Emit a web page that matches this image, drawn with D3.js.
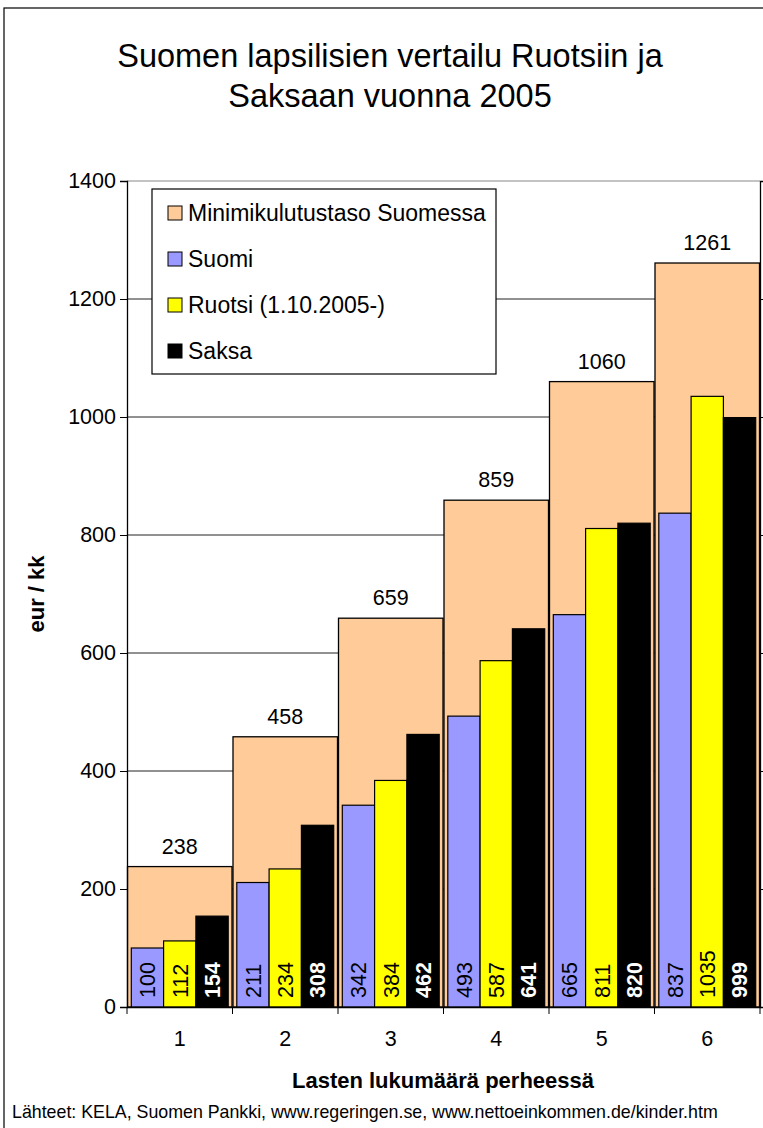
<!DOCTYPE html>
<html>
<head>
<meta charset="utf-8">
<script src="https://cdn.jsdelivr.net/npm/d3@7"></script>
<style>
  body { margin: 0; background: #fff; }
  text { font-family: "Liberation Sans", Arial, sans-serif; }
</style>
</head>
<body>
<svg id="chart" width="763" height="1128"></svg>
<script>
// Data
const children = ["1", "2", "3", "4", "5", "6"];
const minimum = [238, 458, 659, 859, 1060, 1261];
const suomi = [100, 211, 342, 493, 665, 837];
const ruotsi = [112, 234, 384, 587, 811, 1035];
const saksa = [154, 308, 462, 641, 820, 999];
const yTicks = [0, 200, 400, 600, 800, 1000, 1200, 1400];

const seriesNames = ["Minimikulutustaso Suomessa", "Suomi", "Ruotsi (1.10.2005-)", "Saksa"];
const colors = ["#FFCC99", "#9999FF", "#FFFF00", "#000000"];

// Setup
const margin = { top: 181, left: 127, right: 760, bottom: 1007 };
const svg = d3.select("#chart");

// outer frame
svg.append("rect")
    .attr("x", 4).attr("y", 8)
    .attr("width", 800).attr("height", 1200)
    .attr("fill", "none")
    .attr("stroke", "#000")
    .attr("stroke-width", 1.2);

// Title
svg.append("text")
    .attr("x", 390).attr("y", 67)
    .attr("text-anchor", "middle")
    .style("font-size", "32.5px")
    .text("Suomen lapsilisien vertailu Ruotsiin ja");
svg.append("text")
    .attr("x", 390).attr("y", 107)
    .attr("text-anchor", "middle")
    .style("font-size", "32.5px")
    .text("Saksaan vuonna 2005");

// Scales
const x = d3.scaleBand().domain(children).range([margin.left, margin.right]).padding(0);
const y = d3.scaleLinear().domain([0, 1400]).range([margin.bottom, margin.top]);
const x1 = d3.scaleBand().domain([0, 1, 2]).range([0, x.bandwidth()])
    .paddingInner(0).paddingOuter(0.133);

// Gridlines
svg.append("g")
    .selectAll("line")
    .data(yTicks.filter(d => d > 0))
    .join("line")
    .attr("x1", margin.left).attr("x2", margin.right)
    .attr("y1", d => y(d)).attr("y2", d => y(d))
    .attr("stroke", d => d === 1400 ? "#888" : "#222")
    .attr("stroke-width", 1);

// Minimum level bars
svg.append("g")
    .selectAll("rect")
    .data(minimum)
    .join("rect")
    .attr("x", (d, i) => x(children[i]) + 0.5)
    .attr("width", x.bandwidth() - 1)
    .attr("y", d => y(d))
    .attr("height", d => y(0) - y(d))
    .attr("fill", colors[0])
    .attr("stroke", "#000")
    .attr("stroke-width", 1.3);

svg.append("g")
    .selectAll("text")
    .data(minimum)
    .join("text")
    .attr("x", (d, i) => x(children[i]) + x.bandwidth() / 2)
    .attr("y", d => y(d) - 13)
    .attr("text-anchor", "middle")
    .style("font-size", "21.5px")
    .text(d => d);

// Country bars
const countries = [suomi, ruotsi, saksa];
countries.forEach((values, k) => {
    const g = svg.append("g");
    g.selectAll("rect")
        .data(values)
        .join("rect")
        .attr("x", (d, i) => x(children[i]) + x1(k))
        .attr("width", x1.bandwidth())
        .attr("y", d => y(d))
        .attr("height", d => y(0) - y(d))
        .attr("fill", colors[k + 1])
        .attr("stroke", "#000")
        .attr("stroke-width", 1.2);

    g.selectAll("text")
        .data(values)
        .join("text")
        .attr("transform", (d, i) =>
            `translate(${x(children[i]) + x1(k) + x1.bandwidth() / 2}, ${y(0) - 9}) rotate(-90)`)
        .attr("dy", "0.36em")
        .attr("fill", k === 2 ? "#fff" : "#000")
        .style("font-weight", k === 2 ? "bold" : "normal")
        .style("font-size", "21.5px")
        .text(d => d);
});

// Axes
const yAxis = svg.append("g")
    .attr("transform", `translate(${margin.left},0)`)
    .call(d3.axisLeft(y).tickValues(yTicks).tickFormat(d3.format("d")).tickSize(7).tickPadding(4));
yAxis.selectAll("text").style("font-size", "21.5px").attr("fill", "#000");

const yAxisRight = svg.append("g")
    .attr("transform", `translate(${margin.right},0)`)
    .call(d3.axisRight(y).tickValues(yTicks).tickSize(6).tickFormat(""));

const xAxis = svg.append("g")
    .attr("transform", `translate(0,${margin.bottom})`)
    .call(d3.axisBottom(x).tickSize(0).tickPadding(24));
xAxis.selectAll("text").style("font-size", "21.5px").attr("fill", "#000");
xAxis.selectAll(".bnd")
    .data(d3.range(children.length + 1))
    .join("line")
    .attr("class", "bnd")
    .attr("x1", i => margin.left + i * x.bandwidth())
    .attr("x2", i => margin.left + i * x.bandwidth())
    .attr("y1", 0).attr("y2", 7)
    .attr("stroke", "#000");

svg.selectAll(".domain").attr("stroke", "#000").attr("stroke-width", 1.3);
svg.selectAll(".tick line").attr("stroke", "#000");

// Axis titles
svg.append("text")
    .attr("transform", "translate(44, 594) rotate(-90)")
    .attr("text-anchor", "middle")
    .style("font-size", "22px")
    .style("font-weight", "bold")
    .text("eur / kk");

svg.append("text")
    .attr("x", 443).attr("y", 1088)
    .attr("text-anchor", "middle")
    .style("font-size", "22px")
    .style("font-weight", "bold")
    .text("Lasten lukumäärä perheessä");

// Source
svg.append("text")
    .attr("x", 12).attr("y", 1118)
    .style("font-size", "17.8px")
    .text("Lähteet: KELA, Suomen Pankki, www.regeringen.se, www.nettoeinkommen.de/kinder.htm");

// Legend
const legend = svg.append("g").attr("transform", "translate(152,189)");
legend.append("rect")
    .attr("width", 344).attr("height", 185)
    .attr("fill", "#fff")
    .attr("stroke", "#000")
    .attr("stroke-width", 1.2);

const items = legend.selectAll(".legend-item")
    .data(seriesNames)
    .join("g")
    .attr("class", "legend-item")
    .attr("transform", (d, i) => `translate(16, ${24 + i * 46})`);

items.append("rect")
    .attr("x", 0).attr("y", -7)
    .attr("width", 14).attr("height", 14)
    .attr("fill", (d, i) => colors[i])
    .attr("stroke", "#000");

items.append("text")
    .attr("x", 20).attr("dy", "0.36em")
    .style("font-size", "23px")
    .text(d => d);
</script>
</body>
</html>
